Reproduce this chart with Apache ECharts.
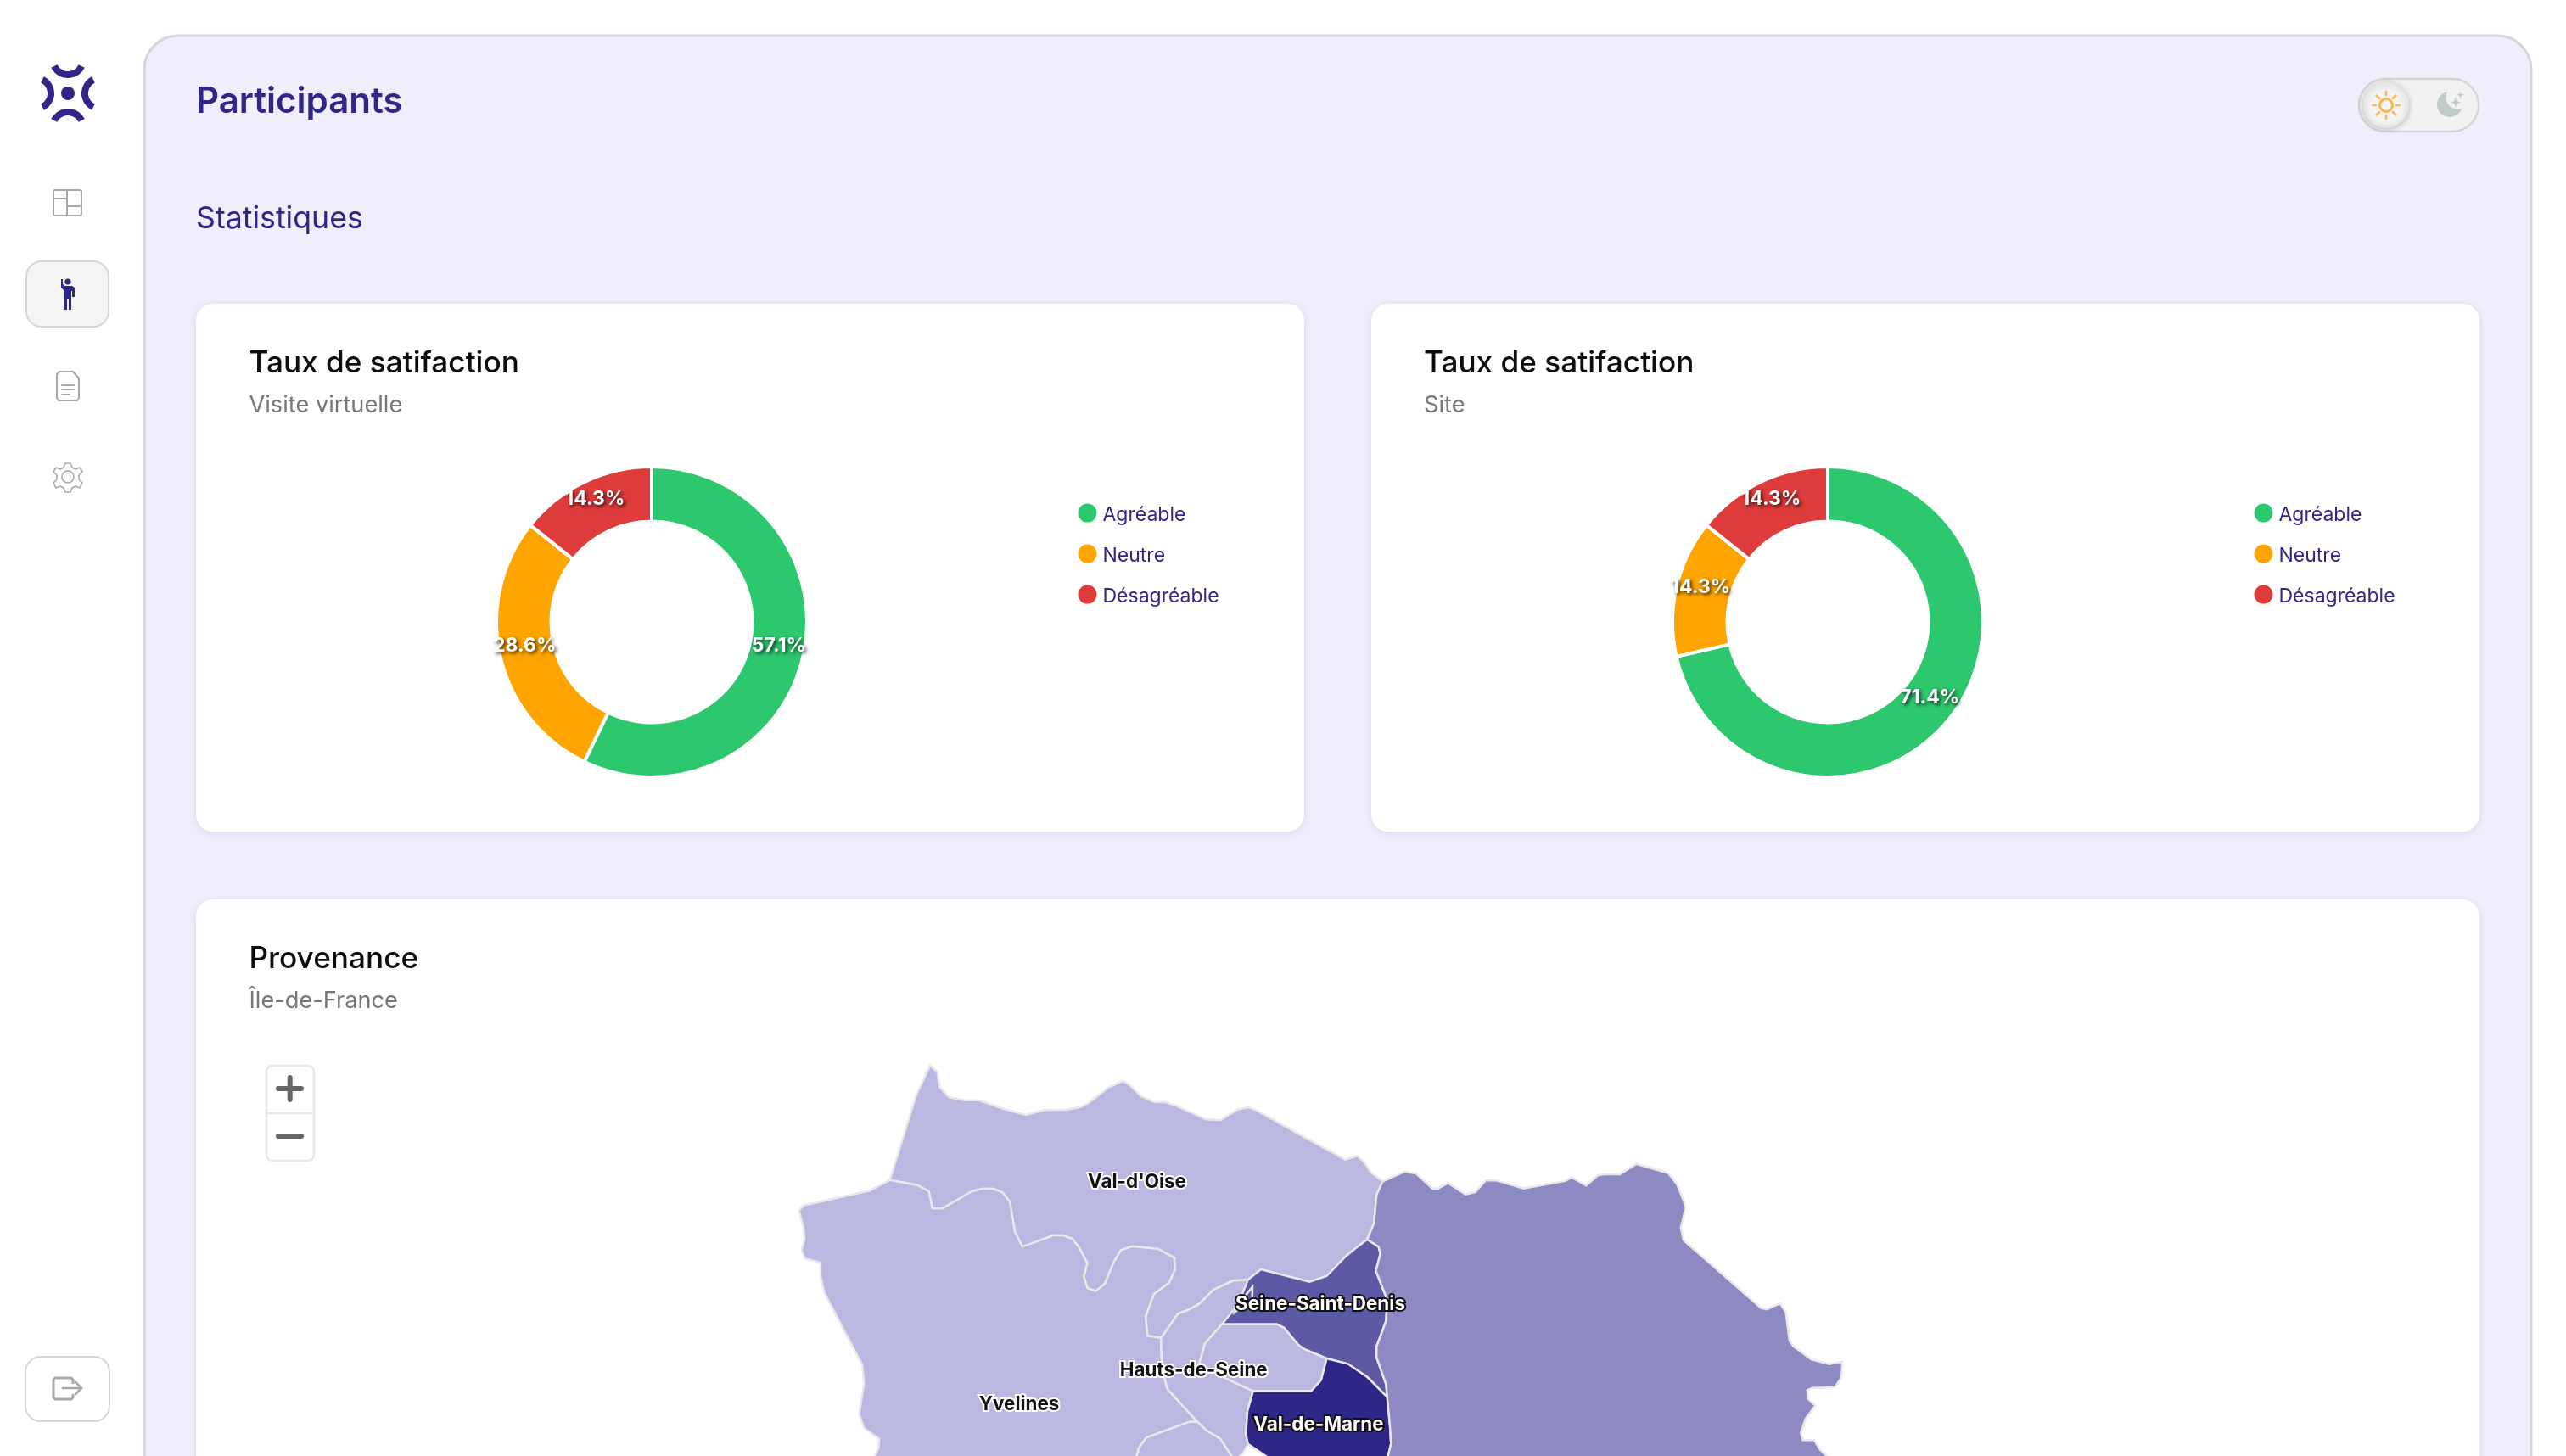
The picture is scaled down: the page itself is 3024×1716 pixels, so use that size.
<!DOCTYPE html>
<html lang="fr"><head><meta charset="utf-8"><title>Participants</title>
<style>html,body{margin:0;padding:0;background:#fff}#c{width:3024px;height:1716px}</style>
<script src="https://cdn.jsdelivr.net/npm/echarts@6/dist/echarts.min.js"></script></head>
<body><div id="c"></div>
<script>
// ---------- data ----------
const satisfactionNames = ['Agréable', 'Neutre', 'Désagréable'];
const visiteVirtuelle = [4, 2, 1];
const siteVisite = [5, 1, 1];
const satisfactionColors = ['#2dc76d', '#ffa502', '#de3b3b'];

const deptNames = ["Val-d'Oise", 'Yvelines', 'Hauts-de-Seine', 'Seine-Saint-Denis', 'Val-de-Marne', 'Seine-et-Marne', 'Paris', 'Essonne'];
const deptLevels = [1, 1, 1, 3, 4, 2, 1, 1];
const levelColors = ['#bab7e1', '#8c89c3', '#5e59a5', '#2e2787'];

// region outlines, in map units
const vo2ssd = [[1611.2,1460.7],[1596.7,1471.7],[1586.7,1480],[1563.3,1504],[1543.3,1510.7],[1486,1496],[1470.7,1508.3]];
const vo2hds = [[1453.3,1509.3],[1430,1520],[1413.3,1536.7],[1400,1544],[1388.3,1548.3],[1368.3,1576.7]];
const seineLoop = [[1352.2,1574.3],[1350,1551.7],[1359.8,1525],[1377.7,1511.7],[1384.4,1496.7],[1383.9,1482.3],[1364.3,1471.7],[1333.9,1469],[1321,1473.3],[1313,1486.7],[1301.8,1513.3],[1291.5,1521.7],[1281.7,1518.3],[1277.2,1505],[1281.3,1488.3],[1271.4,1470],[1263.8,1460],[1252.7,1456],[1241.5,1456],[1204.9,1469.3],[1196,1451.7],[1190.2,1416.7],[1181.3,1405],[1170,1401],[1158,1401],[1145.5,1404],[1110.7,1424.3],[1098.7,1424],[1094.6,1404],[1080.8,1396.7],[1048.7,1390.7]];
const voNorth = [[1080,1290],[1096,1255.7],[1104.5,1263],[1107.6,1281.7],[1118.8,1293.3],[1136.6,1296.7],[1153.6,1296.7],[1185.7,1307.7],[1209.4,1314],[1230.4,1308.3],[1257,1307.7],[1272.8,1305],[1281.7,1300.7],[1306.3,1281.7],[1323.2,1274],[1330.8,1278.3],[1344.2,1291.7],[1359.8,1298.7],[1373.2,1299],[1386.6,1303.3],[1421.4,1319.3],[1438.8,1320],[1458,1307.7],[1471.4,1305],[1480.4,1308.3],[1525,1333.3],[1585.3,1366.7],[1600,1362.3],[1608,1370],[1615.6,1381.7],[1629.5,1392.3]];
const voEast = [[1622.3,1408.3],[1619.2,1441.7]];
const yvWest = [[1025,1403.3],[946.9,1420.7],[941.5,1426.7],[946.9,1446.7],[948.2,1460],[944.6,1473.3],[948.2,1483.3],[967,1488.3],[967,1503.3],[971.4,1523.3],[1016,1608.3],[1018.3,1630],[1012.5,1666.7],[1018.3,1683.3],[1036.2,1695.7],[1035.3,1706.7],[1030.4,1716],[1025,1730]];
const yvEssonne = [[1338,1730],[1339.7,1716],[1342,1706.7],[1350.9,1694.3],[1402,1675.7],[1411,1675.7]];
const yvHds = [[1375.4,1636.7],[1370,1613.3],[1368.8,1600]];
const hdsEssonne = [[1421.4,1685.7],[1438,1695.7],[1451.3,1716],[1455,1730]];
const ssdNorthEast = [[1624.6,1469.3],[1626.8,1477.7],[1621.4,1497.7],[1634.8,1531.7],[1633.5,1556.7],[1622.3,1586.7],[1622.3,1600],[1633.5,1631.7],[1634.8,1646.7]];
const ssdVdm = [[1611.7,1623.3],[1588.3,1607.3],[1563.3,1601]];
const ssdParis = [[1536.7,1590],[1530,1585],[1513.3,1565],[1505,1560.7],[1440,1560.7]];
const ssdHds = [[1455,1546.7],[1475.7,1531.7],[1476,1516.7]];
const parisVdm = [[1556.7,1626.7],[1545,1639.3],[1476.7,1639.3]];
const parisHds = [[1443.3,1624],[1413.3,1606.7],[1420,1583.3]];
const vdmWest = [[1470,1663.3],[1468.3,1690],[1470.7,1701.7]];
const vdmSouth = [[1491.7,1716],[1510,1730],[1633,1730]];
const vdmEast = [[1635.7,1716],[1639.3,1701.7],[1638,1680]];
const smNorth = [[1655.8,1380.7],[1669.2,1383.3],[1687.9,1400.7],[1694.6,1400.7],[1706.3,1394.3],[1727.2,1407.7],[1738.4,1405],[1750.9,1391.3],[1763.8,1391.3],[1795.5,1400.7],[1844.6,1391.7],[1852.2,1387.7],[1869.2,1397.3],[1883.5,1385],[1890.2,1384],[1908.9,1384],[1928.6,1371.7],[1966.1,1382.7],[1976.3,1395.7],[1984.8,1416.7],[1986.2,1425],[1980.8,1446.7],[1983.9,1461.7],[2075.4,1541.7],[2082.1,1543.3],[2097.8,1536],[2104.5,1546.7],[2108.9,1580],[2113.4,1586.7],[2134.8,1602.3],[2155.8,1607.7],[2171.4,1605],[2170,1623.3],[2162.5,1635],[2135.7,1635.7],[2129.9,1638.3],[2130.4,1648.3],[2139.3,1656.7],[2128.1,1671.7],[2122.3,1688.3],[2124.6,1697.3],[2138,1697.3],[2144.6,1708.3],[2152.7,1716],[2165,1730],[1640,1730]];
const hdsSouth = [[1464.7,1713.3],[1461,1716],[1458,1730]];

const rev = a => a.slice().reverse();
const outlines = {
  "Val-d'Oise": [[1048.7,1390.7], ...voNorth, ...voEast, ...vo2ssd, ...vo2hds, ...seineLoop],
  'Yvelines': [[1048.7,1390.7], ...yvWest, ...yvEssonne, ...yvHds, [1368.3,1576.7], ...seineLoop],
  'Hauts-de-Seine': [[1368.3,1576.7], ...rev(vo2hds), [1470.7,1508.3], ...rev(ssdHds), [1440,1560.7], ...rev(parisHds), [1443.3,1624], [1476.7,1639.3], ...vdmWest, ...hdsSouth, ...rev(hdsEssonne), [1411,1675.7], ...yvHds],
  'Seine-Saint-Denis': [...vo2ssd, ...ssdHds, [1440,1560.7], ...rev(ssdParis), [1563.3,1601], ...rev(ssdVdm), ...rev(ssdNorthEast)],
  'Val-de-Marne': [[1476.7,1639.3], ...rev(parisVdm), [1563.3,1601], ...rev(ssdVdm), [1634.8,1646.7], ...rev(vdmEast), ...rev(vdmSouth), ...rev(vdmWest)],
  'Seine-et-Marne': [[1629.5,1392.3], ...smNorth, [1633,1730], ...vdmEast, [1634.8,1646.7], ...rev(ssdNorthEast), [1611.2,1460.7], ...rev(voEast)],
  'Paris': [[1440,1560.7], ...rev(ssdParis), [1563.3,1601], ...parisVdm, ...parisHds],
  'Essonne': [[1411,1675.7], ...hdsEssonne, ...yvEssonne.slice(0,5)]
};
// label anchors, in map units; null hides the label
const labelAnchors = {
  "Val-d'Oise": [1340,1393], 'Yvelines': [1201,1655], 'Hauts-de-Seine': [1406.7,1615],
  'Seine-Saint-Denis': [1556,1537], 'Val-de-Marne': [1554,1679], 'Seine-et-Marne': null, 'Paris': null, 'Essonne': null
};
const labelDark = ["Val-d'Oise", 'Yvelines', 'Hauts-de-Seine'];

// ---------- map ----------
const ring = p => { const r = p.slice(); r.push(p[0]); return r; };
const features = deptNames.map(n => ({
  type: 'Feature',
  properties: labelAnchors[n] ? { name: n, cp: labelAnchors[n] } : { name: n },
  geometry: { type: 'Polygon', coordinates: [ring(outlines[n])] }
}));
echarts.registerMap('idf', { type: 'FeatureCollection', features });
const allPts = Object.values(outlines).flat();
const xs = allPts.map(p => p[0]), ys = allPts.map(p => p[1]);
const minX = Math.min(...xs), maxX = Math.max(...xs), minY = Math.min(...ys), maxY = Math.max(...ys);

// ---------- chrome ----------
const INK = '#2e2787', GREY = '#a8a8aa', LINE = '#d6d6da';
const sline = (x1,y1,x2,y2,stroke,w) => ({ type:'line', z:1, silent:true, shape:{x1,y1,x2,y2}, style:{stroke,lineWidth:w,lineCap:'round'} });
const box = (x,y,w,h,r,fill,stroke,lw,extra) => ({ type:'rect', z:0, silent:true, shape:{x,y,width:w,height:h,r}, style:Object.assign({fill,stroke,lineWidth:lw||0},extra||{}) });
const arc = (cx,cy,r,a,b,stroke,lw) => ({ type:'arc', z:1, silent:true, shape:{cx,cy,r,startAngle:a,endAngle:b}, style:{stroke,lineWidth:lw,fill:null,lineCap:'butt'} });
const circ = (cx,cy,r,fill,stroke,lw,extra) => ({ type:'circle', z:1, silent:true, shape:{cx,cy,r}, style:Object.assign({fill,stroke,lineWidth:lw||0},extra||{}) });
const txt = (x,y,text,font,fill) => ({ type:'text', z:2, silent:true, x, y, style:{text,font,fill,textVerticalAlign:'bottom'} });
const shift = (pts,dx,dy) => pts.map(p => [p[0]+dx,p[1]+dy]);
const poly = (pts,style,open) => ({ type: open?'polyline':'polygon', z:1, silent:true, shape:{points:pts}, style });
const cardShadow = { shadowColor:'rgba(70,60,140,0.12)', shadowBlur:10, shadowOffsetY:2 };
const F = '"Inter","Noto Sans",sans-serif';
const HP = Math.PI/2, LOGO_A = 1.11;

const personIcon = [[2,0],[4,0],[4,6],[7,8],[15,8],[18,10],[18,21],[15,21],[15,14],[14,14],[14,36],[11,36],[11,23],[9,23],[9,36],[6,36],[6,14],[2,10]];
const docIcon = [[4,1],[20,1],[27,9],[27,32],[25,35],[3,35],[1,32],[1,4]];
const gearIcon = [[15,1],[21,1],[23,6],[27,8],[32,6],[35,11],[31,15],[31,20],[35,24],[32,30],[27,28],[23,30],[21,35],[15,35],[13,30],[9,28],[4,30],[1,24],[5,20],[5,15],[1,11],[4,6],[9,8],[13,6]];
const logoutIcon = [[24,8],[24,3],[22,1],[3,1],[1,3],[1,24],[3,26],[22,26],[24,24],[24,20]];
const starBig = [[5,-1],[6.5,4],[11,5.5],[6.5,7],[5,12],[3.5,7],[-1,5.5],[3.5,4]];

const chrome = [
  box(170,42,2813,2000,40,'#efeefa',LINE,3),
  // logo
  arc(80,70,18,HP-LOGO_A,HP+LOGO_A,INK,8), arc(80,150,18,-HP-LOGO_A,-HP+LOGO_A,INK,8),
  arc(42,110,18,-LOGO_A,LOGO_A,INK,8), arc(118,110,18,Math.PI-LOGO_A,Math.PI+LOGO_A,INK,8),
  circ(80,110,8,INK),
  // nav: layout
  box(63,224,33,30,2,'#fff',GREY,2), sline(63,234,79,234,GREY,2), sline(79,224,79,254,GREY,2), sline(79,243,96,243,GREY,2),
  // nav: active participants
  box(31,308,97,77,18,'#f4f4f4',LINE,2),
  circ(80,332,3.6,INK),
  poly(shift(personIcon,70,329),{fill:INK}),
  // nav: doc
  poly(shift(docIcon,66,437),{fill:'#fff',stroke:GREY,lineWidth:2}),
  sline(73,454,87,454,GREY,2), sline(73,459,87,459,GREY,2), sline(73,465,82,465,GREY,2),
  // nav: settings
  circ(80,562,7,'#fff',GREY,1.6),
  poly(shift(gearIcon,62,545),{fill:'none',stroke:GREY,lineWidth:1.6,lineJoin:'round'}),
  // logout
  box(30,1599,99,76,18,'#fff',LINE,2),
  poly(shift(logoutIcon,62,1623),{fill:'none',stroke:GREY,lineWidth:3},true),
  sline(74,1636,96,1636,GREY,2.5), sline(96,1636,89,1629,GREY,2.5), sline(96,1636,89,1643,GREY,2.5),
  // headings
  txt(231,141,'Participants','600 42px '+F,INK),
  txt(231,276.5,'Statistiques','400 35.7px '+F,INK),
  // toggle
  box(2780,93,141,62,31,'#f2f2f2',LINE,2.5),
  circ(2812,124,26,'#f4f4f4','#e6e6e8',2,{shadowColor:'rgba(120,130,130,0.45)',shadowBlur:6,shadowOffsetY:1}),
  circ(2812,124,7.5,'none','#ffb650',3),
  sline(2812,108,2812,112,'#ffb650',2.5), sline(2812,136,2812,140,'#ffb650',2.5), sline(2796,124,2800,124,'#ffb650',2.5), sline(2824,124,2828,124,'#ffb650',2.5),
  sline(2800.5,112.5,2804,116,'#ffb650',2.5), sline(2823.5,112.5,2820,116,'#ffb650',2.5), sline(2800.5,135.5,2804,132,'#ffb650',2.5), sline(2823.5,135.5,2820,132,'#ffb650',2.5),
  circ(2887,123,15,'#bfcdc6'), circ(2896,115,13.5,'#f2f2f2'),
  poly(shift(starBig,2889,115),{fill:'#bfcdc6'}), poly(shift(starBig.map(p=>[p[0]*0.7,p[1]*0.7]),2896,108),{fill:'#bfcdc6'}),
  // cards
  box(231,358,1306,622,20,'#fff',null,0,cardShadow),
  box(1616,358,1306,622,20,'#fff',null,0,cardShadow),
  box(231,1060,2691,800,20,'#fff',null,0,cardShadow),
  // leaflet zoom control
  box(314,1256,56,112,7,'#fff','#e8e8e8',2.5),
  sline(314,1312,370,1312,'#e8e8e8',2.5),
  sline(328,1283,355,1283,'#666',6), sline(341.7,1270,341.7,1296,'#666',6),
  sline(328,1339,355,1339,'#666',6)
];

// ---------- titles ----------
const cardTitle = (left, top, text, subtext) => ({
  text, subtext, left, top, itemGap: 18.5, padding: 0,
  textStyle: { fontFamily:'Inter', fontSize:35.2, fontWeight:500, color:'#0d0d0d' },
  subtextStyle: { fontFamily:'Inter', fontSize:27.2, fontWeight:400, color:'#777' }
});

// ---------- series ----------
const pie = (center, values) => ({
  type:'pie', center, radius:[118.5,183], startAngle:90, clockwise:true, z:5,
  avoidLabelOverlap:false, silent:true,
  itemStyle:{ borderColor:'#fff', borderWidth:4 },
  color: satisfactionColors,
  label:{ show:true, position:'inside', formatter:p=>p.percent.toFixed(1)+'%', offset:[0,-6.5],
    color:'#fff', fontFamily:'Inter', fontSize:23, fontWeight:700,
    textShadowColor:'rgba(0,0,0,0.85)', textShadowBlur:4, textShadowOffsetX:2, textShadowOffsetY:2 },
  labelLine:{ show:false },
  data: satisfactionNames.map((name,i)=>({ name, value: values[i] }))
});
const legend = (left) => ({
  orient:'vertical', left, top:591.6, padding:0, itemWidth:24, itemHeight:24, itemGap:21, icon:'circle', selectedMode:false,
  data:satisfactionNames,
  formatter:'{t|{name}}',
  textStyle:{ rich:{ t:{ fontFamily:'Inter', fontSize:23, color:INK, padding:[5,0,0,1] } } }
});

const chart = echarts.init(document.getElementById('c'), null, { renderer:'canvas', width:3024, height:1716 });
chart.setOption({
  animation:false, backgroundColor:'#fff',
  title:[ cardTitle(293.5,411,'Taux de satifaction','Visite virtuelle'), cardTitle(1678,411,'Taux de satifaction','Site'), cardTitle(293.5,1113,'Provenance','Île-de-France') ],
  legend:[ legend(1268.5), legend(2654.5) ],
  visualMap:{ show:false, type:'piecewise', seriesIndex:2,
    pieces: levelColors.map((color,i)=>({ value:i+1, color })) },
  graphic:{ elements: chrome },
  series:[
    pie([768,733], visiteVirtuelle),
    pie([2154,733], siteVisite),
    { type:'map', map:'idf', silent:true, z:3, showLegendSymbol:false,
      left:minX, top:minY, width:maxX-minX, height:maxY-minY,
      projection:{ project:p=>p, unproject:p=>p },
      roam:false,
      itemStyle:{ borderColor:'#e8e8ea', borderWidth:2.5 },
      label:{ show:true, fontFamily:'Inter', fontSize:22.4, fontWeight:700, color:'#111', textBorderColor:'#fff', textBorderWidth:4 },
      data: deptNames.map((name,i)=>{
        const d = { name, value: deptLevels[i] };
        if (!labelAnchors[name]) d.label = { show:false };
        else if (!labelDark.includes(name)) d.label = { color:'#fff', textBorderColor:'#111', textBorderWidth:4 };
        return d;
      })
    }
  ]
});
</script></body></html>
